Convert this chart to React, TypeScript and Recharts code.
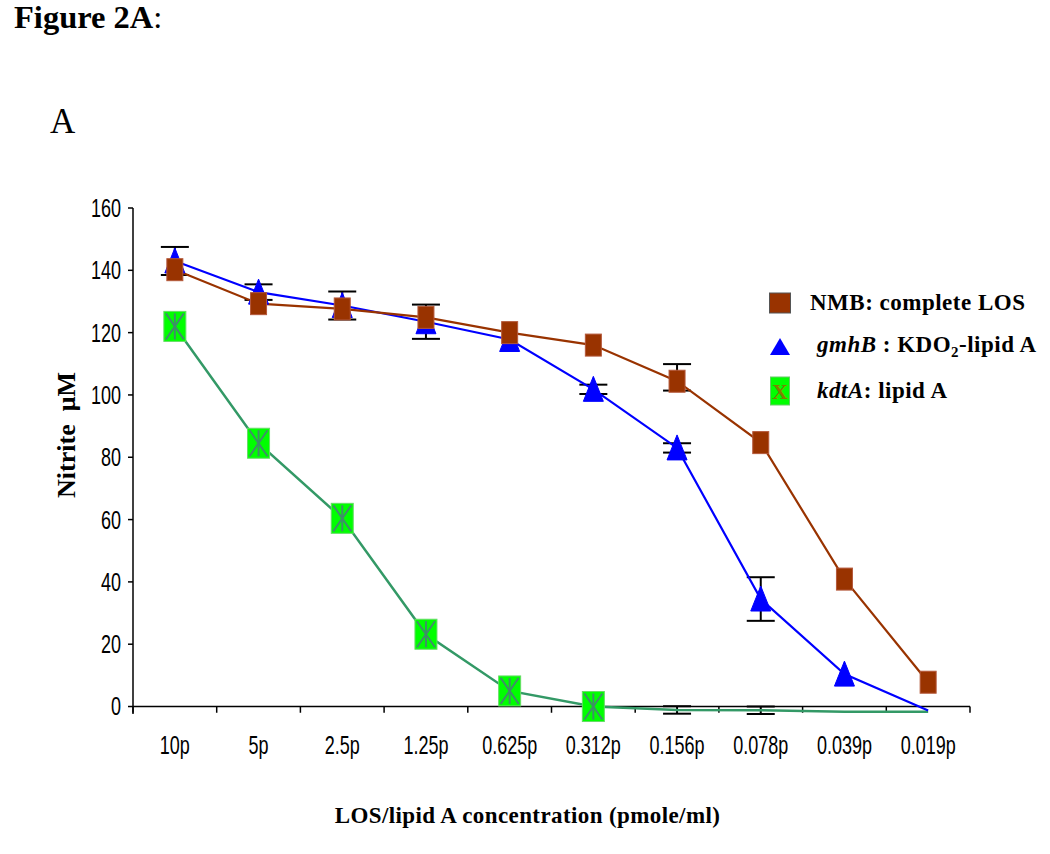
import React from 'react';
import {
  LineChart,
  Line,
  XAxis,
  YAxis,
  ErrorBar,
  ReferenceLine,
  Legend,
} from 'recharts';

// ---------- data ----------
const categories = ['10p', '5p', '2.5p', '1.25p', '0.625p', '0.312p', '0.156p', '0.078p', '0.039p', '0.019p'];

type Err = number | [number, number] | undefined;

const nmbValues = [140.2, 129.3, 127.6, 124.9, 120, 116, 104.4, 84.7, 40.9, 7.8];
const nmbErrors: Err[] = [undefined, undefined, undefined, undefined, undefined, undefined, [3, 5.5], undefined, undefined, undefined];

const gmhbValues = [143, 133, 128.7, 123.5, 117.8, 101.8, 83, 34.5, 10.4, -1.3];
const gmhbErrors: Err[] = [4.5, 2.5, 4.5, 5.5, undefined, 1.5, 1.5, 7, undefined, undefined];
const gmhbMarkers = [true, true, true, true, true, true, true, true, true, false];

const kdtaValues = [122, 84.5, 60.4, 23.2, 5, 0, -1.1, -1.2, -1.7, -1.7];
const kdtaErrors: Err[] = [undefined, undefined, undefined, undefined, undefined, undefined, 1.2, 1.2, undefined, undefined];
const kdtaMarkers = [true, true, true, true, true, true, false, false, false, false];

const yTicks = [0, 20, 40, 60, 80, 100, 120, 140, 160];
const yMin = -2;
const yMax = 160;

// category slots: each category occupies one unit on the x scale
const xTicks = categories.map((_, i) => i + 0.5);
const boundaries = [...categories.map((_, i) => i), categories.length];

const data = categories.map((label, i) => ({
  pos: i + 0.5,
  label,
  nmb: nmbValues[i],
  nmbErr: nmbErrors[i],
  gmhb: gmhbValues[i],
  gmhbErr: gmhbErrors[i],
  kdta: kdtaValues[i],
  kdtaErr: kdtaErrors[i],
}));

// ---------- styles ----------
const BROWN = '#993300';
const BLUE = '#0000FF';
const GREEN_LINE = '#339966';
const GREEN_FILL = '#00FF00';
const SERIF = '"Liberation Serif", "Times New Roman", serif';
const SANS = '"Liberation Sans", Arial, sans-serif';

// ---------- ticks ----------
const XTick = (props: any) => {
  const { x, y, payload } = props;
  return (
    <g transform={`translate(${x},${y})`}>
      <text textAnchor="middle" dy="0.355em" transform="scale(1,1.4)" fontFamily={SANS} fontSize={18} fill="#000">
        {categories[Math.floor(payload.value)]}
      </text>
    </g>
  );
};

const YTick = (props: any) => {
  const { x, y, payload } = props;
  return (
    <g transform={`translate(${x},${y})`}>
      <text textAnchor="end" dy="0.355em" transform="scale(1,1.4)" fontFamily={SANS} fontSize={18} fill="#000">
        {payload.value}
      </text>
    </g>
  );
};

// ---------- markers ----------
const SquareDot = (props: any) => {
  const { cx, cy, index } = props;
  if (cx == null || cy == null) return <g key={`nmb-${index}`} />;
  return (
    <rect key={`nmb-${index}`} x={cx - 8} y={cy - 11} width={16} height={22} fill={BROWN} stroke="#b4583a" strokeWidth={1} />
  );
};

const TriangleDot = (props: any) => {
  const { cx, cy, index } = props;
  if (cx == null || cy == null || !gmhbMarkers[index]) return <g key={`gmhb-${index}`} />;
  return (
    <polygon
      key={`gmhb-${index}`}
      points={`${cx},${cy - 13} ${cx - 10},${cy + 12} ${cx + 10},${cy + 12}`}
      fill={BLUE}
      stroke={BLUE}
      strokeWidth={1}
    />
  );
};

const StarBoxDot = (props: any) => {
  const { cx, cy, index } = props;
  if (cx == null || cy == null || !kdtaMarkers[index]) return <g key={`kdta-${index}`} />;
  return (
    <g key={`kdta-${index}`}>
      <rect x={cx - 11} y={cy - 15} width={22} height={30} fill={GREEN_FILL} stroke="#66dd66" strokeWidth={1} />
      <line x1={cx - 9} y1={cy - 13} x2={cx + 9} y2={cy + 13} stroke="#3f8f68" strokeWidth={2} />
      <line x1={cx + 9} y1={cy - 13} x2={cx - 9} y2={cy + 13} stroke="#3f8f68" strokeWidth={2} />
      <line x1={cx} y1={cy - 13} x2={cx} y2={cy + 13} stroke="#3f8f68" strokeWidth={2} />
    </g>
  );
};

// ---------- legend ----------
const LegendContent = () => {
  const rowStyle: React.CSSProperties = { display: 'flex', alignItems: 'center', height: 44 };
  const textStyle: React.CSSProperties = {
    fontFamily: SERIF,
    fontWeight: 'bold',
    fontSize: 23,
    letterSpacing: 0.5,
    color: '#000',
    whiteSpace: 'nowrap',
  };
  return (
    <div>
      <div style={rowStyle}>
        <svg width={22} height={30}>
          <rect x={0.5} y={5} width={21} height={20} fill={BROWN} stroke="#555" strokeWidth={1} />
        </svg>
        <span style={{ ...textStyle, marginLeft: 19 }}>NMB: complete LOS</span>
      </div>
      <div style={rowStyle}>
        <svg width={22} height={30}>
          <polygon points="11,6 1,23 21,23" fill={BLUE} />
        </svg>
        <span style={{ ...textStyle, marginLeft: 26 }}>
          <i>gmhB</i> : KDO<span style={{ fontSize: '0.65em', verticalAlign: '-0.35em' }}>2</span>-lipid A
        </span>
      </div>
      <div style={rowStyle}>
        <svg width={22} height={30}>
          <rect x={1.5} y={1} width={19} height={28} fill={GREEN_FILL} stroke="#66cc66" strokeWidth={1} />
          <text x={11} y={23} textAnchor="middle" fontFamily={SERIF} fontWeight="bold" fontSize={22} fill="#808000">
            X
          </text>
        </svg>
        <span style={{ ...textStyle, marginLeft: 26 }}>
          <i>kdtA</i>: lipid A
        </span>
      </div>
    </div>
  );
};

const errProps = { direction: 'y' as const, width: 14, stroke: '#000', strokeWidth: 2, isAnimationActive: false, zIndex: 350 };

export default function App() {
  return (
    <div style={{ position: 'absolute', left: 0, top: 0, width: 1050, height: 854, background: '#fff' }}>
      <div
        style={{
          position: 'absolute',
          left: 14,
          top: 1,
          fontFamily: SERIF,
          fontSize: 32.5,
          lineHeight: 1,
          whiteSpace: 'nowrap',
          color: '#000',
        }}
      >
        <b>Figure 2A</b>:
      </div>
      <div
        style={{
          position: 'absolute',
          left: 50,
          top: 104,
          fontFamily: SERIF,
          fontSize: 35,
          lineHeight: 1,
          color: '#000',
        }}
      >
        A
      </div>
      <div style={{ position: 'absolute', left: 0, top: 0 }}>
        <LineChart width={1050} height={854} data={data} margin={{ top: 208, right: 80, bottom: 100, left: 73 }}>
          <XAxis
            dataKey="pos"
            type="number"
            domain={[0, categories.length]}
            ticks={xTicks}
            axisLine={false}
            tickLine={false}
            tickSize={0}
            tickMargin={31}
            height={40}
            tick={<XTick />}
            interval={0}
            allowDecimals
            label={({ viewBox }: any) => (
              <text
                x={viewBox.x + viewBox.width / 2 - 24}
                y={823}
                textAnchor="middle"
                fontFamily={SERIF}
                fontWeight="bold"
                fontSize={23}
                letterSpacing={0.4}
                fill="#000"
              >
                LOS/lipid A concentration (pmole/ml)
              </text>
            )}
          />
          <YAxis
            type="number"
            domain={[yMin, yMax]}
            ticks={yTicks}
            width={60}
            interval={0}
            axisLine={{ stroke: '#000', strokeWidth: 1.5 }}
            tickLine={{ stroke: '#000', strokeWidth: 1.5 }}
            tickSize={5}
            tickMargin={7}
            tick={<YTick />}
            label={() => (
              <text
                x={75}
                y={435}
                transform="rotate(-90, 75, 435)"
                textAnchor="middle"
                fontFamily={SERIF}
                fontWeight="bold"
                fontSize={26}
                fill="#000"
                style={{ whiteSpace: 'pre' }}
              >
                {'Nitrite  μM'}
              </text>
            )}
          />
          <ReferenceLine y={0} stroke="#000" strokeWidth={1.5} ifOverflow="visible" />
          {boundaries.map((b) => (
            <ReferenceLine
              key={`tick-${b}`}
              segment={[
                { x: b, y: 0 },
                { x: b, y: yMin },
              ]}
              stroke="#000"
              strokeWidth={1.5}
              ifOverflow="visible"
            />
          ))}
          <Legend
            layout="horizontal"
            verticalAlign="middle"
            align="center"
            wrapperStyle={{ left: 769, top: 281, width: 281 }}
            content={() => <LegendContent />}
          />
          <Line
            type="linear"
            dataKey="kdta"
            stroke={GREEN_LINE}
            strokeWidth={2.5}
            dot={StarBoxDot}
            activeDot={false}
            isAnimationActive={false}
          >
            <ErrorBar dataKey="kdtaErr" {...(errProps as any)} />
          </Line>
          <Line
            type="linear"
            dataKey="gmhb"
            stroke={BLUE}
            strokeWidth={2.2}
            dot={TriangleDot}
            activeDot={false}
            isAnimationActive={false}
          >
            <ErrorBar dataKey="gmhbErr" {...(errProps as any)} />
          </Line>
          <Line
            type="linear"
            dataKey="nmb"
            stroke={BROWN}
            strokeWidth={2.2}
            dot={SquareDot}
            activeDot={false}
            isAnimationActive={false}
          >
            <ErrorBar dataKey="nmbErr" {...(errProps as any)} />
          </Line>
        </LineChart>
      </div>
    </div>
  );
}
